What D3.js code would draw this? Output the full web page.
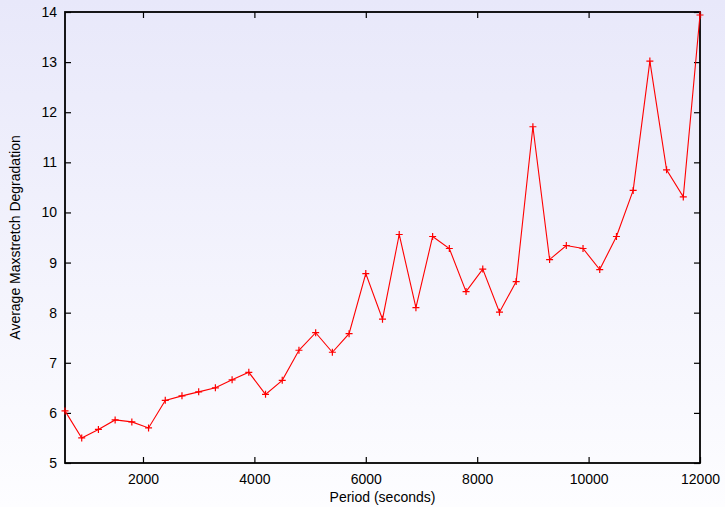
<!DOCTYPE html>
<html><head><meta charset="utf-8">
<script src="https://cdn.jsdelivr.net/npm/d3@7"></script>
<style>body{margin:0;} svg{display:block;font-family:"Liberation Sans",Arial,sans-serif;}</style>
</head><body>
<svg id="c" width="725" height="507"></svg>
<script>
const periods = [600,900,1200,1500,1800,2100,2400,2700,3000,3300,3600,3900,4200,4500,4800,5100,5400,5700,6000,6300,6600,6900,7200,7500,7800,8100,8400,8700,9000,9300,9600,9900,10200,10500,10800,11100,11400,11700,12000];
const degradation = [6.04,5.50,5.67,5.86,5.82,5.70,6.25,6.34,6.42,6.50,6.66,6.81,6.37,6.65,7.25,7.60,7.21,7.58,8.78,7.87,9.56,8.10,9.52,9.28,8.42,8.87,8.01,8.62,11.71,9.06,9.34,9.28,8.86,9.52,10.44,13.02,10.85,10.31,13.94];
const xTicks = [2000,4000,6000,8000,10000,12000];
const yTicks = [5,6,7,8,9,10,11,12,13,14];
const xLabel = "Period (seconds)";
const yLabel = "Average Maxstretch Degradation";

const svg = d3.select("#c");
const W = 725, H = 507;
const m = {left:65, right:700, top:12, bottom:463};

const defs = svg.append("defs");
const g = defs.append("linearGradient").attr("id","bg").attr("x1",0).attr("y1",0).attr("x2",0).attr("y2",1);
g.append("stop").attr("offset","0%").attr("stop-color","#e8e8fa");
g.append("stop").attr("offset","100%").attr("stop-color","#fdfdff");
svg.append("rect").attr("width",W).attr("height",H).attr("fill","url(#bg)");

const x = d3.scaleLinear().domain([600,12000]).range([m.left,m.right]);
const y = d3.scaleLinear().domain([5,14]).range([m.bottom,m.top]);

const tl = 6;
const fmt = d3.format("d");
const xb = svg.append("g").attr("transform",`translate(0,${m.bottom})`)
  .call(d3.axisBottom(x).tickValues(xTicks).tickSize(-tl).tickPadding(11).tickFormat(fmt).tickSizeOuter(0));
const xt = svg.append("g").attr("transform",`translate(0,${m.top})`)
  .call(d3.axisTop(x).tickValues(xTicks).tickSize(-tl).tickFormat("").tickSizeOuter(0));
const yl = svg.append("g").attr("transform",`translate(${m.left},0)`)
  .call(d3.axisLeft(y).tickValues(yTicks).tickSize(-tl).tickPadding(8).tickFormat(fmt).tickSizeOuter(0));
const yr = svg.append("g").attr("transform",`translate(${m.right},0)`)
  .call(d3.axisRight(y).tickValues(yTicks).tickSize(-tl).tickFormat("").tickSizeOuter(0));
[xb,xt,yl,yr].forEach(a=>{
  a.select(".domain").remove();
  a.selectAll(".tick line").attr("stroke","#000").attr("stroke-width",1.2);
  a.selectAll("text").attr("font-size",14).attr("fill","#000").attr("font-family","Liberation Sans, Arial, sans-serif");
});
xb.selectAll("text").attr("dy","0.71em");

svg.append("rect").attr("x",m.left).attr("y",m.top).attr("width",m.right-m.left).attr("height",m.bottom-m.top)
  .attr("fill","none").attr("stroke","#000").attr("stroke-width",1.8);

const data = periods.map((p,i)=>({p, v:degradation[i]}));
svg.append("path").datum(data)
  .attr("fill","none").attr("stroke","#ff0000").attr("stroke-width",1.1)
  .attr("d", d3.line().x(d=>x(d.p)).y(d=>y(d.v)));
const s = 3.5;
svg.append("g").selectAll("path").data(data).join("path")
  .attr("d", d=>`M${x(d.p)-s},${y(d.v)}H${x(d.p)+s}M${x(d.p)},${y(d.v)-s}V${y(d.v)+s}`)
  .attr("stroke","#ff0000").attr("stroke-width",1.2);

svg.append("text").attr("x",(m.left+m.right)/2).attr("y",502).attr("text-anchor","middle")
  .attr("font-size",14).text(xLabel);
svg.append("text").attr("transform",`translate(20,${(m.top+m.bottom)/2}) rotate(-90)`)
  .attr("text-anchor","middle").attr("font-size",14).text(yLabel);
</script>
</body></html>
